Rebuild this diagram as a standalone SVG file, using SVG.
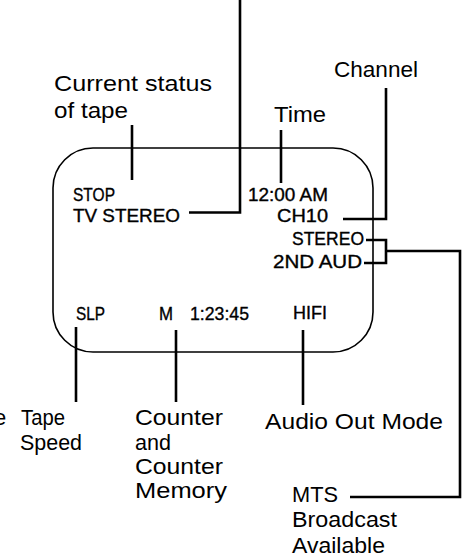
<svg xmlns="http://www.w3.org/2000/svg" width="467" height="558" viewBox="0 0 467 558">
<style>
.lbl{font-family:"Liberation Sans",Arial,sans-serif;font-size:22px;fill:#000}
.scr{font-family:"Liberation Sans",Arial,sans-serif;font-size:18px;fill:#000;stroke:#000;stroke-width:0.35}
.ln{fill:none;stroke:#000;stroke-width:2.6;stroke-linecap:butt;stroke-linejoin:miter}
.box{fill:none;stroke:#000;stroke-width:1.6}
</style>
<rect width="467" height="558" fill="#fff"/>
<g id="display">
<rect class="box" x="53" y="148" width="320" height="204" rx="40" ry="40"/>
<text class="scr" x="73" y="201" textLength="42" lengthAdjust="spacingAndGlyphs">STOP</text>
<text class="scr" x="73" y="222" textLength="107" lengthAdjust="spacingAndGlyphs">TV STEREO</text>
<text class="scr" x="248" y="201" textLength="80" lengthAdjust="spacingAndGlyphs">12:00 AM</text>
<text class="scr" x="277" y="222" textLength="51" lengthAdjust="spacingAndGlyphs">CH10</text>
<text class="scr" x="292" y="245" textLength="72" lengthAdjust="spacingAndGlyphs">STEREO</text>
<text class="scr" x="273" y="268" textLength="89" lengthAdjust="spacingAndGlyphs">2ND AUD</text>
<text class="scr" x="76" y="320" textLength="29" lengthAdjust="spacingAndGlyphs">SLP</text>
<text class="scr" x="159" y="320" textLength="14" lengthAdjust="spacingAndGlyphs">M</text>
<text class="scr" x="190" y="320" textLength="59" lengthAdjust="spacingAndGlyphs">1:23:45</text>
<text class="scr" x="293" y="319" textLength="34" lengthAdjust="spacingAndGlyphs">HIFI</text>
</g>
<g id="connectors">
<path class="ln" d="M240,0 V212.5 H189"/>
<path class="ln" d="M132,125 V180"/>
<path class="ln" d="M281,130 V183"/>
<path class="ln" d="M343,219 H386 V88"/>
<path class="ln" d="M366,240 H386 V263 H364"/>
<path class="ln" d="M386,251 H460 V497 H350"/>
<path class="ln" d="M76,327 V402"/>
<path class="ln" d="M176,330 V402"/>
<path class="ln" d="M303,330 V405"/>
</g>
<g id="label-status">
<text class="lbl" x="54" y="91" textLength="158" lengthAdjust="spacingAndGlyphs">Current status</text>
<text class="lbl" x="54" y="118" textLength="74" lengthAdjust="spacingAndGlyphs">of tape</text>
</g>
<g id="label-time"><text class="lbl" x="274" y="122" textLength="52" lengthAdjust="spacingAndGlyphs">Time</text></g>
<g id="label-channel"><text class="lbl" x="334" y="77" textLength="84" lengthAdjust="spacingAndGlyphs">Channel</text></g>
<g id="label-cut"><text class="lbl" x="-6" y="425">e</text></g>
<g id="label-speed">
<text class="lbl" x="21" y="425" textLength="44" lengthAdjust="spacingAndGlyphs">Tape</text>
<text class="lbl" x="20" y="450" textLength="62" lengthAdjust="spacingAndGlyphs">Speed</text>
</g>
<g id="label-counter">
<text class="lbl" x="135" y="425" textLength="88" lengthAdjust="spacingAndGlyphs">Counter</text>
<text class="lbl" x="135" y="450" textLength="36" lengthAdjust="spacingAndGlyphs">and</text>
<text class="lbl" x="135" y="474" textLength="88" lengthAdjust="spacingAndGlyphs">Counter</text>
<text class="lbl" x="135" y="498" textLength="92" lengthAdjust="spacingAndGlyphs">Memory</text>
</g>
<g id="label-audio"><text class="lbl" x="265" y="429" textLength="178" lengthAdjust="spacingAndGlyphs">Audio Out Mode</text></g>
<g id="label-mts">
<text class="lbl" x="292" y="502" textLength="46" lengthAdjust="spacingAndGlyphs">MTS</text>
<text class="lbl" x="292" y="527" textLength="105" lengthAdjust="spacingAndGlyphs">Broadcast</text>
<text class="lbl" x="292" y="553" textLength="93" lengthAdjust="spacingAndGlyphs">Available</text>
</g>
</svg>
